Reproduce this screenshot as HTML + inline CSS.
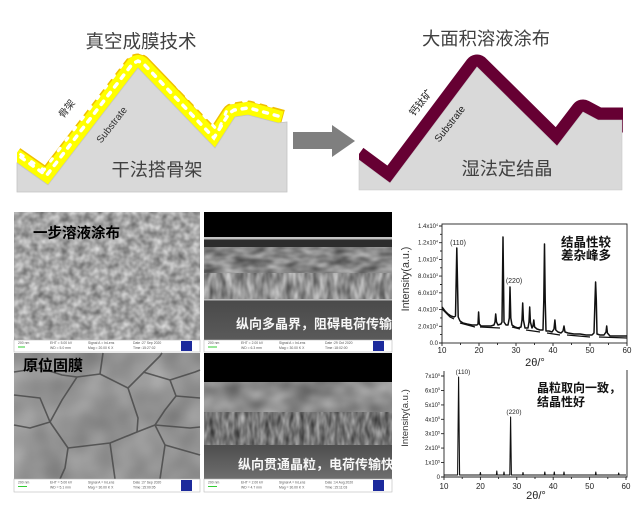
<!DOCTYPE html>
<html><head><meta charset="utf-8">
<style>
html,body{margin:0;padding:0;background:#fff;}
svg{display:block;}
.cjk{font-family:"Liberation Sans","Noto Sans CJK SC",sans-serif;}
.lat{font-family:"Liberation Sans",sans-serif;}
</style></head>
<body>
<svg width="640" height="513" viewBox="0 0 640 513" xmlns="http://www.w3.org/2000/svg">
<defs>
 <filter id="fTL" x="0" y="0" width="1" height="1" color-interpolation-filters="sRGB">
  <feTurbulence type="fractalNoise" baseFrequency="0.13" numOctaves="2" seed="5"/>
  <feColorMatrix type="matrix" values="0.55 0 0 0 0.37  0.55 0 0 0 0.37  0.55 0 0 0 0.37  0 0 0 0 1"/>
 </filter>
 <filter id="fBL" x="0" y="0" width="1" height="1" color-interpolation-filters="sRGB">
  <feTurbulence type="fractalNoise" baseFrequency="0.03" numOctaves="2" seed="2"/>
  <feColorMatrix type="matrix" values="0.25 0 0 0 0.45  0.25 0 0 0 0.45  0.25 0 0 0 0.45  0 0 0 0 1"/>
 </filter>
 <filter id="fX1" x="0" y="0" width="1" height="1" color-interpolation-filters="sRGB">
  <feTurbulence type="fractalNoise" baseFrequency="0.06 0.12" numOctaves="2" seed="7"/>
  <feColorMatrix type="matrix" values="0.6 0 0 0 0.22  0.6 0 0 0 0.22  0.6 0 0 0 0.22  0 0 0 0 1"/>
 </filter>
 <filter id="fX2" x="0" y="0" width="1" height="1" color-interpolation-filters="sRGB">
  <feTurbulence type="fractalNoise" baseFrequency="0.15 0.06" numOctaves="2" seed="9"/>
  <feColorMatrix type="matrix" values="0.7 0 0 0 0.22  0.7 0 0 0 0.22  0.7 0 0 0 0.22  0 0 0 0 1"/>
 </filter>
 <filter id="fX3" x="0" y="0" width="1" height="1" color-interpolation-filters="sRGB">
  <feTurbulence type="fractalNoise" baseFrequency="0.035 0.05" numOctaves="2" seed="4"/>
  <feColorMatrix type="matrix" values="0.5 0 0 0 0.3  0.5 0 0 0 0.3  0.5 0 0 0 0.3  0 0 0 0 1"/>
 </filter>
 <filter id="fX4" x="0" y="0" width="1" height="1" color-interpolation-filters="sRGB">
  <feTurbulence type="fractalNoise" baseFrequency="0.2 0.07" numOctaves="2" seed="11"/>
  <feColorMatrix type="matrix" values="0.6 0 0 0 0.16  0.6 0 0 0 0.16  0.6 0 0 0 0.16  0 0 0 0 1"/>
 </filter>
 <linearGradient id="gSub" x1="0" y1="0" x2="0" y2="1">
  <stop offset="0" stop-color="#4a4a4a"/><stop offset="1" stop-color="#5a5a5a"/>
 </linearGradient>
 <linearGradient id="gSub2" x1="0" y1="0" x2="0" y2="1">
  <stop offset="0" stop-color="#4e4e4e"/><stop offset="1" stop-color="#6e6e6e"/>
 </linearGradient>
 <clipPath id="cR"><rect x="359" y="0" width="264" height="189"/></clipPath>
 <clipPath id="cL"><rect x="17" y="0" width="271" height="191"/></clipPath>
</defs>

<rect width="640" height="513" fill="#fff"/>

<!-- ===== Top-left diagram ===== -->
<text class="cjk" x="141" y="48" font-size="18.5" fill="#404040" text-anchor="middle">真空成膜技术</text>
<g clip-path="url(#cL)">
<path d="M12,160 L48,185 L138,68 L215,148 L235,117 L248,115 L281,124" fill="none" stroke="#f0c000" stroke-width="29" stroke-linejoin="round"/>
<path d="M12,160 L48,185 L138,68 L215,148 L235,117 L248,115 L280,124" fill="none" stroke="#ffff00" stroke-width="26" stroke-linejoin="round"/>
<path d="M21,157.3 L46.5,175.5 L132.5,63.7 L138,61 L143,63.2 L213.9,137.9 L229.1,113.2 L234,110.1 L247,108.1 L249.8,108.2 L278,116" fill="none" stroke="#fff" stroke-width="3.5" stroke-dasharray="4 7" stroke-linecap="round"/>
<path d="M14,150 L44,170 L128,57 L138,52 L150,56 L218,131 L230,103 L250,100 L278,108" fill="none" stroke="#fff" stroke-width="3" stroke-dasharray="3 10" stroke-dashoffset="5" stroke-linecap="round"/>
</g>
<polygon points="17,163 48,185 138,68 215,148 235,117 248,115 278,123 287,122 287,192 17,192" fill="#d9d9d9" stroke="#c4c4c4" stroke-width="0.8"/>
<text class="cjk" x="67" y="112" font-size="10" fill="#333" text-anchor="middle" transform="rotate(-52 67 109)">骨架</text>
<text class="lat" x="112" y="128" font-size="10" fill="#333" text-anchor="middle" transform="rotate(-52 112 125)">Substrate</text>
<text class="cjk" x="157" y="176" font-size="18.2" fill="#404040" text-anchor="middle">干法搭骨架</text>

<!-- arrow -->
<polygon points="293,132 332,132 332,125 355,141 332,157 332,149 293,149" fill="#7f7f7f"/>

<!-- ===== Top-right diagram ===== -->
<text class="cjk" x="486" y="45" font-size="18.3" fill="#404040" text-anchor="middle">大面积溶液涂布</text>
<g clip-path="url(#cR)">
<path d="M356,158 L390,183 L477,67 L557,146 L583,112 L598,120 L624,120" fill="none" stroke="#660033" stroke-width="25" stroke-linejoin="round"/>
</g>
<polygon points="359,160 390,183 477,67 557,146 583,112 598,120 622,120 622,190 359,190" fill="#d9d9d9" stroke="#c8c8c8" stroke-width="0.6"/>
<text class="cjk" x="421" y="106" font-size="10" fill="#222" text-anchor="middle" transform="rotate(-52 421 103)">钙钛矿</text>
<text class="lat" x="450" y="127" font-size="10" fill="#222" text-anchor="middle" transform="rotate(-52 450 124)">Substrate</text>
<text class="cjk" x="507" y="175" font-size="18.2" fill="#404040" text-anchor="middle">湿法定结晶</text>

<!-- ===== SEM top-left ===== -->
<rect x="14" y="212" width="186" height="128" filter="url(#fTL)"/>
<text class="cjk" x="33" y="238" font-size="14.5" font-weight="bold" fill="#000">一步溶液涂布</text>

<!-- ===== SEM top-right ===== -->
<rect x="204" y="212" width="188" height="25" fill="#000"/>
<rect x="204" y="237" width="188" height="2.5" fill="#c4c4c4"/>
<rect x="204" y="239.5" width="188" height="8" fill="#2c2c2c"/>
<rect x="204" y="247" width="188" height="26" filter="url(#fX1)"/>
<rect x="204" y="273" width="188" height="27" filter="url(#fX2)"/>
<rect x="204" y="299" width="188" height="1.5" fill="#bbb"/>
<rect x="204" y="300.5" width="188" height="39.5" fill="url(#gSub)"/>
<text class="cjk" x="236" y="328.5" font-size="13" font-weight="bold" fill="#fff" opacity="0.95">纵向多晶界，阻碍电荷传输</text>

<!-- ===== SEM bottom-left ===== -->
<rect x="14" y="353" width="186" height="126" filter="url(#fBL)"/>
<g fill="none" stroke="#4a4a4a" stroke-width="1.6" stroke-linejoin="round" opacity="0.85">
 <polyline points="14,372 40,368 62,375 77,377 100,374 128,388 145,371 160,356 162,353"/>
 <polyline points="77,377 62,400 50,422 68,448 110,443 137,432 138,418 128,388"/>
 <polyline points="137,432 155,425 190,428 200,427"/>
 <polyline points="143,372 170,380 195,372 200,370"/>
 <polyline points="170,380 176,396 165,410 155,425"/>
 <polyline points="50,422 30,428 14,425"/>
 <polyline points="14,395 40,398 50,422"/>
 <polyline points="68,448 65,468 60,479"/>
 <polyline points="110,443 115,479"/>
 <polyline points="155,425 165,445 160,479"/>
 <polyline points="165,445 200,455"/>
 <polyline points="176,396 200,398"/>
 <polyline points="100,374 103,353"/>
</g>
<text class="cjk" x="23" y="370.5" font-size="15" font-weight="bold" fill="#000">原位固膜</text>

<!-- ===== SEM bottom-right ===== -->
<rect x="204" y="353" width="188" height="29" fill="#000"/>
<rect x="204" y="382" width="188" height="30" filter="url(#fX3)"/>
<rect x="204" y="412" width="188" height="33" filter="url(#fX4)"/>
<rect x="204" y="445" width="188" height="34" fill="url(#gSub2)"/>
<text class="cjk" x="238" y="469" font-size="13" font-weight="bold" fill="#fff" opacity="0.95">纵向贯通晶粒，电荷传输快</text>

<!-- info bars -->
<g class="lat" font-size="3.4" fill="#555">
 <rect x="14" y="340" width="186" height="12" fill="#fff" stroke="#bbb" stroke-width="0.6"/>
 <text x="18" y="344">200 nm</text><text x="50" y="344">EHT = 5.00 kV</text><text x="88" y="344">Signal A = InLens</text><text x="133" y="344">Date :27 Sep 2020</text>
 <text x="50" y="349">WD = 5.0 mm</text><text x="88" y="349">Mag = 20.00 K X</text><text x="133" y="349">Time :15:27:02</text>
 <rect x="18" y="346.5" width="7" height="1" fill="#3c3"/>
 <rect x="181" y="341" width="11" height="10" fill="#1c2a9c"/>

 <rect x="204" y="340" width="188" height="12" fill="#fff" stroke="#bbb" stroke-width="0.6"/>
 <text x="208" y="344">200 nm</text><text x="241" y="344">EHT = 2.00 kV</text><text x="279" y="344">Signal A = InLens</text><text x="325" y="344">Date :29 Oct 2020</text>
 <text x="241" y="349">WD = 6.3 mm</text><text x="279" y="349">Mag = 30.00 K X</text><text x="325" y="349">Time :18:02:00</text>
 <rect x="208" y="346.5" width="9" height="1" fill="#3c3"/>
 <rect x="373" y="341" width="11" height="10" fill="#1c2a9c"/>

 <rect x="14" y="479" width="186" height="13" fill="#fff" stroke="#bbb" stroke-width="0.6"/>
 <text x="18" y="483.5">200 nm</text><text x="50" y="483.5">EHT = 5.00 kV</text><text x="88" y="483.5">Signal A = InLens</text><text x="133" y="483.5">Date :27 Sep 2020</text>
 <text x="50" y="488.5">WD = 5.1 mm</text><text x="88" y="488.5">Mag = 30.00 K X</text><text x="133" y="488.5">Time :15:00:05</text>
 <rect x="18" y="486" width="9" height="1" fill="#3c3"/>
 <rect x="181" y="480" width="11" height="11" fill="#1c2a9c"/>

 <rect x="204" y="479" width="188" height="13" fill="#fff" stroke="#bbb" stroke-width="0.6"/>
 <text x="208" y="483.5">200 nm</text><text x="241" y="483.5">EHT = 2.00 kV</text><text x="279" y="483.5">Signal A = InLens</text><text x="325" y="483.5">Date :14 Aug 2020</text>
 <text x="241" y="488.5">WD = 4.7 mm</text><text x="279" y="488.5">Mag = 30.00 K X</text><text x="325" y="488.5">Time :15:11:03</text>
 <rect x="208" y="486" width="9" height="1" fill="#3c3"/>
 <rect x="373" y="480" width="11" height="11" fill="#1c2a9c"/>
</g>

<!-- ===== XRD top ===== -->
<g stroke="#222" stroke-width="0.9" fill="none">
 <rect x="442" y="224" width="185" height="119"/>
 <path d="M442,343v3 M460.5,343v2 M479,343v3 M497.5,343v2 M516,343v3 M534.5,343v2 M553,343v3 M571.5,343v2 M590,343v3 M608.5,343v2 M627,343v3"/>
 <path d="M442,343h-3 M442,326.3h-3 M442,309.6h-3 M442,292.8h-3 M442,276.1h-3 M442,259.4h-3 M442,242.7h-3 M442,226h-3 M442,334.6h-2 M442,317.9h-2 M442,301.2h-2 M442,284.5h-2 M442,267.8h-2 M442,251h-2 M442,234.3h-2"/>
</g>
<path d="M442,307 L445,311 L448,314 L451,316 L454,317 L455.5,316 L456.8,248 L458.2,317 L460,321 L463,323 L467,324 L472,325 L477,325 L478,324 L478.6,312 L479.3,324 L481,326 L486,326 L491,326 L494,325 L495,322 L495.7,314 L496.5,322 L498,325 L501,324 L502,322 L503,237 L504,322 L506,325 L508,325 L509.3,318 L510,287 L510.8,318 L512,325 L515,327 L518,328 L521,327 L522,320 L522.7,303 L523.4,320 L525,328 L528,328 L529,322 L529.7,307 L530.4,322 L532,328 L533,326 L533.8,320 L534.6,327 L537,329 L540,330 L543,330 L543.8,300 L544.5,244 L545.2,300 L546,331 L549,331 L552,332 L554,329 L554.9,320 L555.8,330 L558,332 L561,333 L563,331 L564,326 L565,332 L568,333 L574,334 L580,334 L586,335 L592,335 L594,333 L595,300 L595.6,282 L596.3,300 L597,334 L600,335 L604,335 L606,332 L606.7,326 L607.4,333 L610,336 L615,336 L620,336 L627,336" fill="none" stroke="#111" stroke-width="1.5" stroke-linejoin="round"/>
<path d="M442,309 L450,317 L454,319 M460,323 L475,327 M480,327 L500,328 M512,327 L520,329 M526,330 L540,332 M547,333 L560,335 M567,335 L590,337 M599,337 L627,338" fill="none" stroke="#111" stroke-width="1.2"/>
<g class="lat" font-size="6" fill="#222" text-anchor="end">
 <text x="438" y="345">0.0</text>
 <text x="438" y="328.3">2.0x10<tspan font-size="3.6" dy="-2.2">3</tspan></text>
 <text x="438" y="311.6">4.0x10<tspan font-size="3.6" dy="-2.2">3</tspan></text>
 <text x="438" y="294.8">6.0x10<tspan font-size="3.6" dy="-2.2">3</tspan></text>
 <text x="438" y="278.1">8.0x10<tspan font-size="3.6" dy="-2.2">3</tspan></text>
 <text x="438" y="261.4">1.0x10<tspan font-size="3.6" dy="-2.2">4</tspan></text>
 <text x="438" y="244.7">1.2x10<tspan font-size="3.6" dy="-2.2">4</tspan></text>
 <text x="438" y="228">1.4x10<tspan font-size="3.6" dy="-2.2">4</tspan></text>
</g>
<g class="lat" font-size="8" fill="#222" text-anchor="middle">
 <text x="442" y="353">10</text><text x="479" y="353">20</text><text x="516" y="353">30</text><text x="553" y="353">40</text><text x="590" y="353">50</text><text x="627" y="353">60</text>
</g>
<text class="lat" x="458" y="245" font-size="7" fill="#222" text-anchor="middle">(110)</text>
<text class="lat" x="514" y="283" font-size="7" fill="#222" text-anchor="middle">(220)</text>
<text class="lat" x="535" y="366" font-size="11" fill="#222" text-anchor="middle">2θ/°</text>
<text class="lat" x="405" y="283" font-size="10.7" fill="#333" text-anchor="middle" transform="rotate(-90 405 279)">Intensity(a.u.)</text>
<text class="cjk" x="561" y="246.5" font-size="12.5" font-weight="bold" fill="#111">结晶性较</text>
<text class="cjk" x="561" y="259.5" font-size="12.5" font-weight="bold" fill="#111">差杂峰多</text>

<!-- ===== XRD bottom ===== -->
<g stroke="#222" stroke-width="0.9" fill="none">
 <path d="M444,371 V477 H627 V370"/>
 <path d="M444,477v3 M462.2,477v2 M480.4,477v3 M498.6,477v2 M516.8,477v3 M535,477v2 M553.2,477v3 M571.4,477v2 M589.6,477v3 M607.8,477v2 M626,477v3"/>
 <path d="M444,477h-3 M444,462.6h-3 M444,448.1h-3 M444,433.7h-3 M444,419.3h-3 M444,404.9h-3 M444,390.4h-3 M444,376h-3"/>
</g>
<path d="M444,475 L457.6,475 L458.6,377 L459.6,475 L480,475 L480.4,472.5 L480.8,475 L496.4,475 L496.8,471 L497.2,475 L503.6,475 L504,472 L504.4,475 L509.8,475 L510.6,417 L511.4,475 L522.6,475 L523,472.5 L523.4,475 L544.4,475 L544.8,472 L545.2,475 L553.9,475 L554.3,472 L554.7,475 L563.6,475 L564,472 L564.4,475 L595.4,475 L595.8,472 L596.2,475 L618.3,475 L618.7,473 L619.1,475 L626,475" fill="none" stroke="#111" stroke-width="1.1" stroke-linejoin="round"/>
<g class="lat" font-size="6" fill="#222" text-anchor="end">
 <text x="440" y="479">0</text>
 <text x="440" y="464.6">1x10<tspan font-size="3.6" dy="-2.2">5</tspan></text>
 <text x="440" y="450.1">2x10<tspan font-size="3.6" dy="-2.2">5</tspan></text>
 <text x="440" y="435.7">3x10<tspan font-size="3.6" dy="-2.2">5</tspan></text>
 <text x="440" y="421.3">4x10<tspan font-size="3.6" dy="-2.2">5</tspan></text>
 <text x="440" y="406.9">5x10<tspan font-size="3.6" dy="-2.2">5</tspan></text>
 <text x="440" y="392.4">6x10<tspan font-size="3.6" dy="-2.2">5</tspan></text>
 <text x="440" y="378">7x10<tspan font-size="3.6" dy="-2.2">5</tspan></text>
</g>
<g class="lat" font-size="8" fill="#222" text-anchor="middle">
 <text x="444" y="489">10</text><text x="480.4" y="489">20</text><text x="516.8" y="489">30</text><text x="553.2" y="489">40</text><text x="589.6" y="489">50</text><text x="626" y="489">60</text>
</g>
<text class="lat" x="463" y="374" font-size="6.5" fill="#222" text-anchor="middle">(110)</text>
<text class="lat" x="514" y="414" font-size="6.5" fill="#222" text-anchor="middle">(220)</text>
<text class="lat" x="536" y="499" font-size="11" fill="#222" text-anchor="middle">2θ/°</text>
<text class="lat" x="405" y="421" font-size="9.5" fill="#333" text-anchor="middle" transform="rotate(-90 405 418)">Intensity(a.u.)</text>
<text class="cjk" x="537" y="392" font-size="12" font-weight="bold" fill="#111">晶粒取向一致，</text>
<text class="cjk" x="537" y="406" font-size="12" font-weight="bold" fill="#111">结晶性好</text>
</svg>
</body></html>
